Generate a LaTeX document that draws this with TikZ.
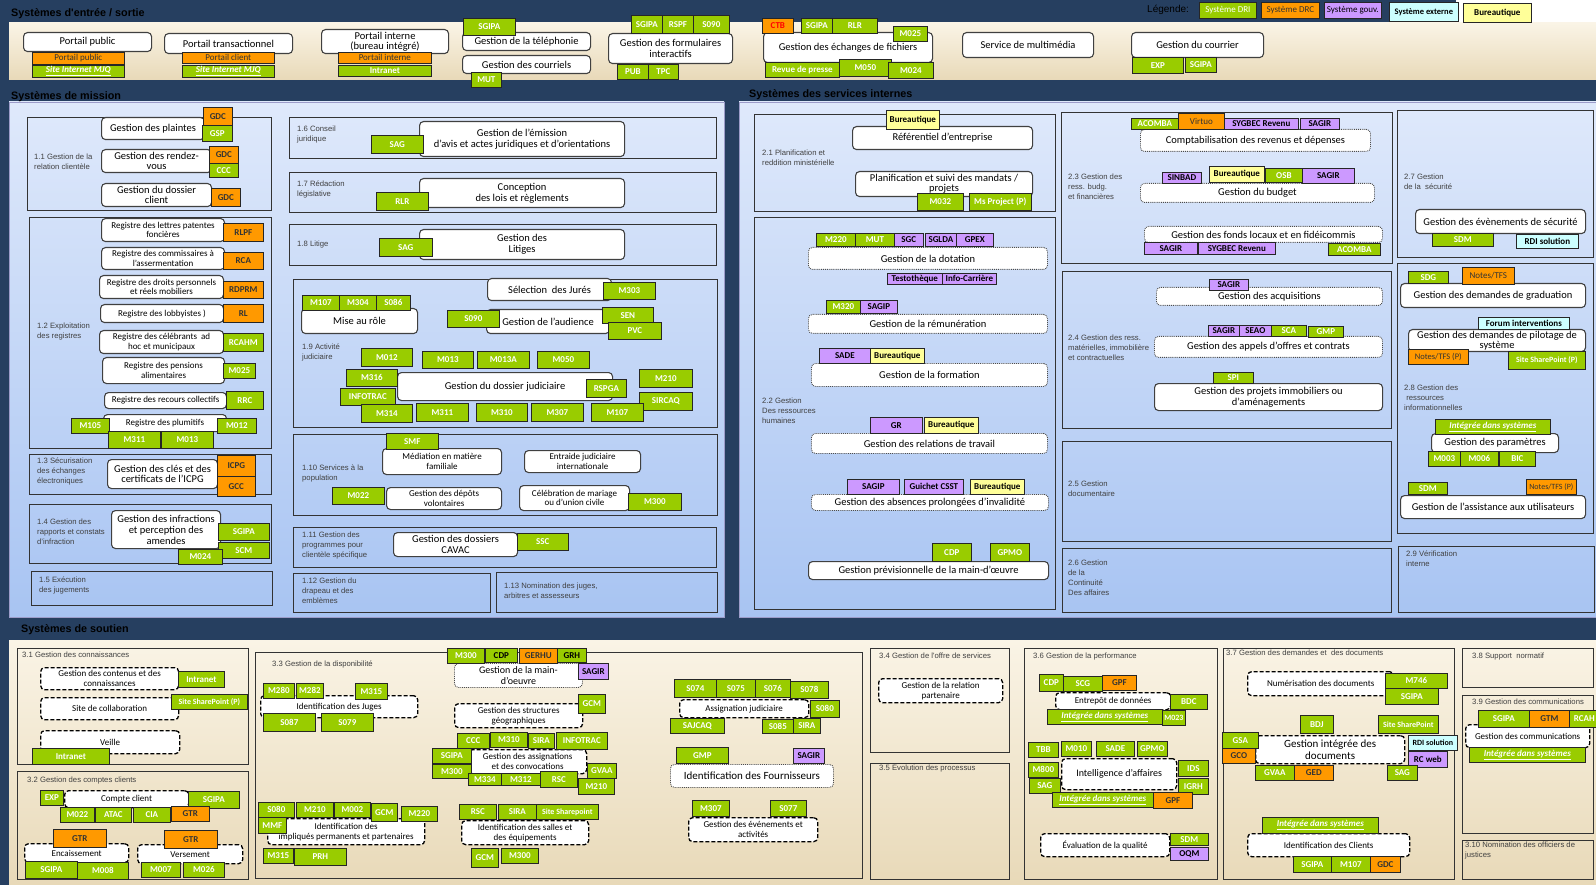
\documentclass[tikz,border=0pt]{standalone}
\usepackage{fontspec}
\setmainfont{Carlito}
\newfontfamily\arialf{Liberation Sans}
\definecolor{navy}{HTML}{263F60}
\definecolor{cG}{HTML}{99CC00}
\definecolor{cO}{HTML}{FF9900}
\definecolor{cP}{HTML}{CC99FF}
\definecolor{cC}{HTML}{CCFFFF}
\definecolor{cY}{HTML}{FFFF99}
\definecolor{beigeT}{HTML}{FAF4E6}
\definecolor{beigeB}{HTML}{E8D9B8}
\definecolor{blueT}{HTML}{DFE9FB}
\definecolor{blueB}{HTML}{A8C4F2}
\newcommand\fz[2]{\fontsize{#1}{#2}\selectfont}
\newcommand\iu[1]{\underline{\textit{#1}}}
\newcommand\tn[6][]{\node[#1,minimum width=#4pt,minimum height=#5pt] (#2) at (#3) {#6};}
\newcommand\lbn[3]{\node[lbl] (#1) at (#2) {#3};}
\newcommand\areabox[2]{\draw[areastyle] (#1) rectangle (#2);}
\tikzset{
  tagbase/.style={anchor=north west, inner sep=0.5pt, align=center, draw=black!85, line width=0.7pt, font=\bfseries\fz{9}{9}},
  tgG/.style={tagbase, fill=cG, text=white},
  tgK/.style={tagbase, fill=cG, text=black},
  tgO/.style={tagbase, fill=cO, text=black!80},
  tgP/.style={tagbase, fill=cP, text=black},
  tgC/.style={tagbase, fill=cC, text=black},
  tgY/.style={tagbase, fill=cY, text=black},
  sbox/.style={anchor=north west, inner sep=1pt, align=center, fill=white, draw=black!75, line width=1.1pt, rounded corners=4pt, font=\fz{10.5}{10.5}},
  dbox/.style={anchor=north west, inner sep=1pt, align=center, fill=white, draw=black!70, densely dotted, line width=0.9pt, rounded corners=4pt, font=\fz{10.5}{10.5}},
  hbox/.style={anchor=north west, inner sep=1pt, align=center, fill=white, draw=black, dash pattern=on 4pt off 2pt, line width=1.3pt, rounded corners=4pt, font=\fz{9}{10}},
  lbl/.style={anchor=north west, inner sep=0pt, align=left, text=black!75, font=\arialf\fz{7.7}{10}},
  areastyle/.style={draw=black!80, line width=0.8pt},
  hdr/.style={anchor=west, inner sep=0pt, font=\arialf\bfseries\fz{10.8}{12}, text=black},
  reg/.style={sbox, font=\fz{9}{9.5}}
}
\begin{document}
\begin{tikzpicture}[x=1pt,y=-1pt]
\useasboundingbox (0,0) rectangle (1596,885);
\fill[navy] (0,0) rectangle (1596,885);
\fill[white] (1456,0) rectangle (1596,22);
% ---------- panels
\shade[top color=beigeT, bottom color=beigeB] (9,23) rectangle (1596,80);
\shade[top color=blueT, bottom color=blueB, draw=blue!30!gray!60] (9,102) rectangle (724,617);
\shade[top color=blueT, bottom color=blueB, draw=blue!30!gray!60] (739,102) rectangle (1596,617);
\shade[top color=beigeT, bottom color=beigeB] (9,640) rectangle (1596,885);
% ---------- headers
\node[hdr] (h1) at (11,14) {Systèmes d'entrée / sortie};
\node[hdr] (h2) at (11,97) {Systèmes de mission};
\node[hdr] (h3) at (749,95) {Systèmes des services internes};
\node[hdr] (h4) at (21,630) {Systèmes de soutien};
% ---------- legend
\node[anchor=west, inner sep=0pt, font=\arialf\fz{10}{12}, text=black] (leg) at (1147,10) {Légende:};
\tn[tgG, font=\fz{9}{9}]{l1}{1199,2}{57}{16}{Système DRI}
\tn[tgO, font=\fz{9}{9}]{l2}{1261,2}{58}{16}{Système DRC}
\tn[tgP, font=\fz{9}{9}]{l3}{1324,2}{57}{16}{Système gouv.}
\tn[tgC, font=\bfseries\fz{8.5}{9}]{l4}{1389,2}{69}{19}{Système externe}
\tn[tgY, font=\bfseries\fz{9}{9}]{l5}{1463,3}{68}{19}{Bureautique}
% ---------- top band
\tn[sbox]{bpp}{23,32}{128}{19}{Portail public}
\tn[tgO, font=\fz{9}{9}]{tpp1}{32,52}{92}{12}{Portail public}
\tn[tgG, font=\bfseries\fz{9}{9}]{tpp2}{32,65}{92}{12}{\iu{Site Internet MJQ}}
\tn[sbox]{bpt}{164,33}{128}{20}{Portail transactionnel}
\tn[tgO, font=\fz{9}{9}]{tpt1}{182,52}{92}{11}{Portail client}
\tn[tgG, font=\bfseries\fz{9}{9}]{tpt2}{182,65}{92}{12}{\iu{Site Internet MJQ}}
\tn[sbox, font=\fz{10.5}{10}]{bpi}{321,29}{127}{24}{Portail interne\\(bureau intégré)}
\tn[tgO, font=\fz{9}{9}]{tpi1}{338,52}{93}{11}{Portail interne}
\tn[tgG]{tpi2}{338,65}{93}{11}{Intranet}
\tn[sbox]{btel}{462,32}{128}{18}{Gestion de la téléphonie}
\tn[tgG]{ttel}{463,18}{52}{17}{SGIPA}
\tn[sbox]{bcou}{462,55}{128}{18}{Gestion des courriels}
\tn[tgG]{tmut}{471,72}{30}{15}{MUT}
\tn[sbox, font=\fz{10.5}{11}]{bform}{608,33}{124}{30}{Gestion des formulaires\\interactifs}
\tn[tgG]{tf1}{631,15}{31}{18}{SGIPA}
\tn[tgG]{tf2}{662,15}{31}{18}{RSPF}
\tn[tgG]{tf3}{693,15}{36}{18}{S090}
\tn[tgG]{tpub}{617,64}{31}{15}{PUB}
\tn[tgG]{ttpc}{648,64}{30}{15}{TPC}
\tn[sbox]{bech}{763,32}{169}{30}{Gestion des échanges de fichiers}
\tn[tgO, text=red]{tctb}{762,18}{31}{15}{CTB}
\tn[tgG]{tech1}{801,18}{31}{15}{SGIPA}
\tn[tgG]{tech2}{832,18}{45}{15}{RLR}
\tn[tgG]{tech3}{893,26}{34}{15}{M025}
\tn[tgG]{tech4}{765,62}{74}{15}{Revue de presse}
\tn[tgG]{tech5}{839,59}{52}{17}{M050}
\tn[tgG]{tech6}{888,62}{45}{16}{M024}
\tn[sbox]{bmm}{962,32}{131}{25}{Service de multimédia}
\tn[sbox]{bgc}{1131,32}{132}{25}{Gestion du courrier}
\tn[tgG]{tgc1}{1132,57}{51}{16}{EXP}
\tn[tgG]{tgc2}{1185,57}{31}{15}{SGIPA}
% ================= MISSION
% 1.1
\areabox{27,117}{271,210}
\lbn{L11}{34,154}{1.1 Gestion de la\\relation clientèle}
\tn[sbox]{bpl}{101,117}{103}{22}{Gestion des plaintes}
\tn[tgO]{tpl1}{203,107}{29}{18}{GDC}
\tn[tgG]{tpl2}{202,125}{30}{16}{GSP}
\tn[sbox]{brv}{101,149}{110}{23}{Gestion des rendez-\\vous}
\tn[tgO]{trv1}{209,146}{29}{17}{GDC}
\tn[tgG]{trv2}{209,163}{29}{14}{CCC}
\tn[sbox]{bdc}{101,183}{110}{23}{Gestion du dossier\\client}
\tn[tgO]{tdc}{211,188}{29}{18}{GDC}
% 1.2
\areabox{29,217}{271,448}
\lbn{L12}{37,323}{1.2 Exploitation\\des registres}
\tn[reg]{r1}{101,218}{123}{23}{Registre des lettres patentes\\foncières}
\tn[tgO]{tr1}{223,223}{40}{18}{RLPF}
\tn[reg]{r2}{101,247}{123}{22}{Registre des commissaires à\\l’assermentation}
\tn[tgO]{tr2}{223,252}{40}{17}{RCA}
\tn[reg]{r3}{99,275}{124}{23}{Registre des droits personnels\\et réels mobiliers}
\tn[tgO]{tr3}{223,281}{40}{17}{RDPRM}
\tn[reg]{r4}{100,304}{123}{18}{Registre des lobbyistes )}
\tn[tgO]{tr4}{223,304}{40}{18}{RL}
\tn[reg]{r5}{99,330}{124}{23}{Registre des célébrants\ \ ad\\hoc et municipaux}
\tn[tgG]{tr5}{223,333}{40}{18}{RCAHM}
\tn[reg]{r6}{102,357}{122}{26}{Registre des pensions\\alimentaires}
\tn[tgG]{tr6}{223,363}{32}{15}{M025}
\tn[reg]{r7}{104,392}{122}{16}{Registre des recours collectifs}
\tn[tgG]{tr7}{226,391}{37}{18}{RRC}
\tn[reg]{r8}{103,414}{123}{17}{Registre des plumitifs}
\tn[tgG]{tr8a}{71,418}{38}{15}{M105}
\tn[tgG]{tr8b}{217,418}{39}{15}{M012}
\tn[tgG]{tr8c}{108,431}{52}{17}{M311}
\tn[tgG]{tr8d}{161,431}{52}{17}{M013}
% 1.3
\areabox{29,454}{271,494}
\lbn{L13}{37,458}{1.3 Sécurisation\\des échanges\\électroniques}
\tn[sbox, font=\fz{10.5}{10.5}]{bicpg}{107,459}{110}{29}{Gestion des clés et des\\certificats de l’ICPG}
\tn[tgO]{ticpg1}{217,455}{38}{21}{ICPG}
\tn[tgO]{ticpg2}{217,476}{38}{20}{GCC}
% 1.4
\areabox{29,504}{271,563}
\lbn{L14}{37,519}{1.4 Gestion des\\rapports et constats\\d’infraction}
\tn[sbox, font=\fz{10.5}{11}]{binf}{111,510}{109}{38}{Gestion des infractions\\et perception des\\amendes}
\tn[tgG]{tinf1}{218,523}{51}{17}{SGIPA}
\tn[tgG]{tinf2}{218,542}{51}{16}{SCM}
\tn[tgG]{tinf3}{178,549}{44}{15}{M024}
% 1.5
\areabox{31,571}{272,605}
\lbn{L15}{39,577}{1.5 Exécution\\des jugements}
% 1.6
\areabox{289,117}{716,158}
\lbn{L16}{297,126}{1.6 Conseil\\juridique}
\tn[sbox, font=\fz{10.5}{11}]{bem}{419,121}{205}{35}{Gestion de l’émission\\d’avis et actes juridiques et d’orientations}
\tn[tgG]{tem}{371,135}{52}{18}{SAG}
% 1.7
\areabox{289,172}{716,212}
\lbn{L17}{297,181}{1.7 Rédaction\\législative}
\tn[sbox, font=\fz{10.5}{11}]{blois}{419,178}{205}{29}{Conception\\des lois et règlements}
\tn[tgG]{tlois}{376,192}{52}{18}{RLR}
% 1.8
\areabox{289,224}{716,265}
\lbn{L18}{297,241}{1.8 Litige}
\tn[sbox, font=\fz{10.5}{11}]{blit}{419,229}{205}{30}{Gestion des\\Litiges}
\tn[tgG]{tlit}{379,238}{53}{18}{SAG}
% 1.9
\areabox{293,279}{717,427}
\lbn{L19}{302,344}{1.9 Activité\\judiciaire}
\tn[sbox]{bjur}{487,278}{124}{22}{Sélection\ \ des Jurés}
\tn[tgG]{tjur}{603,282}{52}{17}{M303}
\tn[sbox]{brole}{301,308}{116}{25}{Mise au rôle}
\tn[tgG]{trole1}{302,295}{37}{15}{M107}
\tn[tgG]{trole2}{339,295}{37}{15}{M304}
\tn[tgG]{trole3}{376,295}{34}{15}{S086}
\tn[sbox]{baud}{486,309}{123}{24}{Gestion de l'audience}
\tn[tgG]{taud1}{447,310}{52}{17}{S090}
\tn[tgG]{taud2}{602,307}{51}{16}{SEN}
\tn[tgG]{taud3}{608,322}{53}{17}{PVC}
\tn[sbox]{bdj}{397,372}{215}{28}{Gestion du dossier judiciaire}
\tn[tgG]{tdj1}{361,348}{51}{18}{M012}
\tn[tgG]{tdj2}{422,351}{51}{17}{M013}
\tn[tgG]{tdj3}{477,351}{52}{17}{M013A}
\tn[tgG]{tdj4}{537,351}{52}{17}{M050}
\tn[tgG]{tdj5}{346,369}{51}{17}{M316}
\tn[tgG]{tdj6}{340,388}{55}{17}{INFOTRAC}
\tn[tgG]{tdj7}{586,379}{40}{18}{RSPGA}
\tn[tgG]{tdj8}{639,369}{53}{18}{M210}
\tn[tgG]{tdj9}{639,392}{53}{18}{SIRCAQ}
\tn[tgG]{tdj10}{361,404}{51}{18}{M314}
\tn[tgG]{tdj11}{416,403}{52}{18}{M311}
\tn[tgG]{tdj12}{476,403}{51}{18}{M310}
\tn[tgG]{tdj13}{531,403}{52}{18}{M307}
\tn[tgG]{tdj14}{591,403}{52}{18}{M107}
% 1.10
\areabox{293,434}{717,515}
\lbn{L110}{302,465}{1.10 Services à la\\population}
\tn[reg]{bmed}{382,448}{119}{26}{Médiation en matière\\familiale}
\tn[tgG]{tmed}{386,433}{52}{16}{SMF}
\tn[reg]{bentr}{524,450}{116}{22}{Entraide judiciaire\\internationale}
\tn[reg]{bdep}{386,487}{115}{22}{Gestion des dépôts\\volontaires}
\tn[tgG]{tdep}{332,487}{52}{17}{M022}
\tn[reg]{bmar}{519,485}{110}{25}{Célébration de mariage\\ou d’union civile}
\tn[tgG]{tmar}{628,493}{53}{17}{M300}
% 1.11
\areabox{293,527}{716,567}
\lbn{L111}{302,532}{1.11 Gestion des\\programmes pour\\clientèle spécifique}
\tn[sbox, font=\fz{10.5}{11}]{bcav}{393,532}{124}{24}{Gestion des dossiers\\CAVAC}
\tn[tgG]{tcav}{517,533}{51}{17}{SSC}
% 1.12 / 1.13
\areabox{293,573}{490,612}
\lbn{L112}{302,578}{1.12 Gestion du\\drapeau et des\\emblèmes}
\areabox{496,572}{717,612}
\lbn{L113}{504,583}{1.13 Nomination des juges,\\arbitres et assesseurs}
% ================= INTERNAL
% 2.1
\areabox{754,114}{1055,211}
\lbn{L21}{762,150}{2.1 Planification et\\reddition ministérielle}
\tn[sbox]{bref}{852,126}{180}{23}{Référentiel d'entreprise}
\tn[tgY]{tref}{886,110}{53}{19}{Bureautique}
\tn[sbox, font=\fz{10.5}{10}]{bplan}{855,171}{177}{25}{Planification et suivi des mandats /\\projets}
\tn[tgG]{tplan1}{917,193}{46}{17}{M032}
\tn[tgG]{tplan2}{969,193}{62}{17}{Ms Project (P)}
% 2.2
\areabox{754,217}{1055,609}
\lbn{L22}{762,398}{2.2 Gestion\\Des ressources\\humaines}
\tn[dbox]{bdot}{808,247}{239}{22}{Gestion de la dotation}
\tn[tgG]{tdot1}{816,233}{39}{13}{M220}
\tn[tgG]{tdot2}{855,233}{39}{13}{MUT}
\tn[tgP]{tdot3}{894,233}{29}{13}{SGC}
\tn[tgP]{tdot4}{925,233}{31}{13}{SGLDA}
\tn[tgP]{tdot5}{956,233}{37}{13}{GPEX}
\tn[tgP]{tdot6}{887,273}{55}{11}{Testothèque}
\tn[tgP]{tdot7}{942,273}{54}{11}{Info-Carrière}
\tn[dbox]{brem}{808,314}{239}{19}{Gestion de la rémunération}
\tn[tgG]{trem1}{826,300}{34}{13}{M320}
\tn[tgP]{trem2}{860,300}{37}{13}{SAGIP}
\tn[dbox]{bfor}{811,363}{236}{23}{Gestion de la formation}
\tn[tgP]{tfor1}{819,348}{51}{15}{SADE}
\tn[tgY]{tfor2}{870,348}{54}{15}{Bureautique}
\tn[dbox]{brelt}{811,433}{236}{20}{Gestion des relations de travail}
\tn[tgP]{trel1}{870,417}{52}{16}{GR}
\tn[tgY]{trel2}{924,417}{54}{16}{Bureautique}
\tn[dbox]{babs}{811,494}{237}{16}{Gestion des absences prolongées d'invalidité}
\tn[tgP]{tabs1}{847,479}{52}{15}{SAGIP}
\tn[tgP]{tabs2}{904,479}{59}{15}{Guichet CSST}
\tn[tgY]{tabs3}{970,479}{54}{15}{Bureautique}
\tn[sbox]{bgpm}{808,561}{240}{18}{Gestion prévisionnelle de la main-d'œuvre}
\tn[tgG]{tgpm1}{932,543}{39}{18}{CDP}
\tn[tgG]{tgpm2}{990,543}{39}{18}{GPMO}
% 2.3
\areabox{1061,112}{1392,263}
\lbn{L23}{1068,174}{2.3 Gestion des\\ress. budg.\\et financières}
\tn[dbox]{bcpt}{1140,129}{230}{22}{Comptabilisation des revenus et dépenses}
\tn[tgG]{tcpt1}{1131,118}{47}{11}{ACOMBA}
\tn[tgO, font=\fz{9}{9}]{tcpt2}{1178,113}{46}{16}{Virtuo}
\tn[tgP]{tcpt3}{1224,118}{74}{11}{SYGBEC Revenu}
\tn[tgP]{tcpt4}{1300,118}{39}{11}{SAGIR}
\tn[dbox]{bbud}{1140,183}{234}{19}{Gestion du budget}
\tn[tgP]{tbud1}{1162,172}{39}{11}{SINBAD}
\tn[tgY]{tbud2}{1209,166}{55}{16}{Bureautique}
\tn[tgG]{tbud3}{1265,168}{37}{14}{OSB}
\tn[tgP]{tbud4}{1302,168}{52}{15}{SAGIR}
\tn[dbox]{bfonds}{1144,226}{238}{16}{Gestion des fonds locaux et en fidéicommis}
\tn[tgP]{tfon1}{1144,242}{53}{12}{SAGIR}
\tn[tgP]{tfon2}{1198,242}{77}{12}{SYGBEC Revenu}
\tn[tgG]{tfon3}{1328,243}{52}{12}{ACOMBA}
% 2.4
\areabox{1062,271}{1391,428}
\lbn{L24}{1068,335}{2.4 Gestion des ress.\\matérielles, immobilière\\et contractuelles}
\tn[dbox]{bacq}{1156,287}{226}{18}{Gestion des acquisitions}
\tn[tgP]{tacq}{1209,279}{39}{11}{SAGIR}
\tn[dbox]{bao}{1154,336}{228}{21}{Gestion des appels d'offres et contrats}
\tn[tgP]{tao1}{1208,325}{31}{11}{SAGIR}
\tn[tgP]{tao2}{1239,325}{32}{11}{SEAO}
\tn[tgG]{tao3}{1271,325}{35}{11}{SCA}
\tn[tgG]{tao4}{1308,326}{35}{11}{GMP}
\tn[sbox, font=\fz{10.5}{10.5}]{bimm}{1154,383}{228}{27}{Gestion des projets immobiliers ou\\d'aménagements}
\tn[tgG]{timm}{1213,372}{40}{11}{SPI}
% 2.5 2.6
\areabox{1062,441}{1391,541}
\lbn{L25}{1068,481}{2.5 Gestion\\documentaire}
\areabox{1062,548}{1391,612}
\lbn{L26}{1068,560}{2.6 Gestion\\de la\\Continuité\\Des affaires}
% 2.7
\areabox{1397,110}{1593,257}
\lbn{L27}{1404,174}{2.7 Gestion\\de la\ \ sécurité}
\tn[sbox]{bsec}{1415,209}{170}{24}{Gestion des évènements de sécurité}
\tn[tgG]{tsec1}{1432,233}{61}{13}{SDM}
\tn[tgC]{tsec2}{1516,234}{62}{14}{RDI solution}
% 2.8
\areabox{1397,263}{1593,533}
\lbn{L28}{1404,385}{2.8 Gestion des\\\ ressources\\informationnelles}
\tn[sbox]{bgrad}{1400,283}{185}{24}{Gestion des demandes de graduation}
\tn[tgG]{tgrad1}{1408,271}{40}{12}{SDG}
\tn[tgO, font=\fz{9}{9}]{tgrad2}{1462,267}{52}{17}{Notes/TFS}
\tn[sbox, font=\fz{10.5}{10}]{bpil}{1408,329}{177}{22}{Gestion des demandes de pilotage de\\système}
\tn[tgC]{tpil1}{1478,317}{91}{12}{Forum interventions}
\tn[tgO, font=\fz{8.5}{9}]{tpil2}{1408,349}{60}{15}{Notes/TFS (P)}
\tn[tgG, font=\bfseries\fz{8}{9}]{tpil3}{1508,351}{77}{18}{Site SharePoint (P)}
\tn[sbox]{bpar}{1431,433}{127}{19}{Gestion des paramètres}
\tn[tgG]{tpar1}{1435,419}{115}{15}{\iu{Intégrée dans systèmes}}
\tn[tgG]{tpar2}{1428,451}{32}{15}{M003}
\tn[tgG]{tpar3}{1460,451}{38}{15}{M006}
\tn[tgG]{tpar4}{1499,451}{36}{15}{BIC}
\tn[sbox]{bass}{1400,495}{185}{23}{Gestion de l'assistance aux utilisateurs}
\tn[tgG]{tass1}{1408,482}{39}{12}{SDM}
\tn[tgO, font=\fz{8}{9}]{tass2}{1526,479}{50}{15}{Notes/TFS (P)}
% 2.9
\areabox{1398,546}{1594,612}
\lbn{L29}{1406,551}{2.9 Vérification\\interne}
% ================= SUPPORT
% 3.1
\areabox{17,648}{248,764}
\lbn{L31}{22,652}{3.1 Gestion des connaissances}
\tn[hbox]{hcont}{40,667}{138}{22}{Gestion des contenus et des\\connaissances}
\tn[tgG]{tcont}{178,671}{46}{16}{Intranet}
\tn[hbox]{hcol}{40,697}{138}{22}{Site de collaboration}
\tn[tgG, font=\bfseries\fz{8}{9}]{tcol}{171,694}{76}{15}{Site SharePoint (P)}
\tn[hbox]{hveil}{40,730}{139}{23}{Veille}
\tn[tgG]{tveil}{32,748}{77}{16}{Intranet}
% 3.2
\areabox{17,771}{248,879}
\lbn{L32}{27,777}{3.2 Gestion des comptes clients}
\tn[hbox]{hcc}{64,790}{124}{17}{Compte client}
\tn[tgG]{tcc1}{40,790}{23}{15}{EXP}
\tn[tgG]{tcc2}{188,791}{51}{17}{SGIPA}
\tn[tgG]{tcc3}{60,807}{34}{15}{M022}
\tn[tgG]{tcc4}{95,807}{36}{15}{ATAC}
\tn[tgG]{tcc5}{133,807}{37}{15}{CIA}
\tn[tgO]{tcc6}{171,806}{38}{15}{GTR}
\tn[hbox]{henc}{24,843}{104}{19}{Encaissement}
\tn[tgO]{tenc1}{53,829}{53}{18}{GTR}
\tn[tgG]{tenc2}{25,861}{52}{17}{SGIPA}
\tn[tgG]{tenc3}{77,862}{51}{17}{M008}
\tn[hbox]{hver}{137,844}{105}{19}{Versement}
\tn[tgO]{tver1}{164,830}{53}{18}{GTR}
\tn[tgG]{tver2}{141,862}{39}{15}{M007}
\tn[tgG]{tver3}{183,862}{41}{15}{M026}
% 3.3
\areabox{255,652}{862,878}
\lbn{L33}{272,661}{3.3 Gestion de la disponibilité}
\tn[hbox]{hjug}{260,695}{157}{22}{Identification des Juges}
\tn[tgG]{tjug1}{263,683}{31}{15}{M280}
\tn[tgG]{tjug2}{296,683}{27}{15}{M282}
\tn[tgG]{tjug3}{355,683}{32}{16}{M315}
\tn[tgG]{tjug4}{263,713}{52}{18}{S087}
\tn[tgG]{tjug5}{321,713}{52}{18}{S079}
\tn[hbox]{himp}{267,818}{157}{26}{Identification des\\impliqués permanents et partenaires}
\tn[tgG]{timp1}{258,802}{36}{15}{S080}
\tn[tgG]{timp2}{296,802}{37}{15}{M210}
\tn[tgG]{timp3}{334,802}{36}{15}{M002}
\tn[tgG]{timp4}{371,803}{26}{18}{GCM}
\tn[tgG]{timp5}{401,806}{36}{15}{M220}
\tn[tgG]{timp6}{258,817}{28}{16}{MMF}
\tn[tgG]{timp7}{263,848}{30}{15}{M315}
\tn[tgG]{timp8}{294,848}{52}{17}{PRH}
\tn[dbox, font=\fz{10}{10.5}]{dmo}{454,663}{128}{24}{Gestion de la main-\\d'oeuvre}
\tn[tgG]{tmo1}{447,648}{37}{15}{M300}
\tn[tgK]{tmo2}{485,648}{32}{14}{CDP}
\tn[tgO]{tmo3}{519,648}{38}{15}{GERHU}
\tn[tgK]{tmo4}{557,648}{29}{14}{GRH}
\tn[tgP]{tmo5}{578,663}{30}{16}{SAGIR}
\tn[hbox]{hgeo}{454,703}{128}{24}{Gestion des structures\\géographiques}
\tn[tgG]{tgeo}{578,694}{27}{19}{GCM}
\tn[hbox]{hasg}{468,749}{118}{24}{Gestion des assignations\\et des convocations}
\tn[tgG]{tasg1}{457,733}{32}{15}{CCC}
\tn[tgG]{tasg2}{490,732}{37}{15}{M310}
\tn[tgG]{tasg3}{528,733}{26}{15}{SIRA}
\tn[tgG]{tasg4}{556,732}{51}{17}{INFOTRAC}
\tn[tgG]{tasg5}{432,748}{39}{15}{SGIPA}
\tn[tgG]{tasg6}{432,764}{39}{14}{M300}
\tn[tgG]{tasg7}{468,773}{33}{12}{M334}
\tn[tgG]{tasg8}{501,773}{39}{12}{M312}
\tn[tgG]{tasg9}{540,771}{37}{16}{RSC}
\tn[tgG]{tasg10}{587,763}{29}{15}{GVAA}
\tn[tgG]{tasg11}{578,778}{36}{16}{M210}
\tn[hbox]{hsal}{461,820}{127}{24}{Identification des salles et\\des équipements}
\tn[tgG]{tsal1}{459,804}{37}{15}{RSC}
\tn[tgG]{tsal2}{498,804}{38}{15}{SIRA}
\tn[tgG, font=\bfseries\fz{8}{9}]{tsal3}{536,804}{62}{15}{Site Sharepoint}
\tn[tgG]{tsal4}{471,848}{27}{19}{GCM}
\tn[tgG]{tsal5}{501,848}{37}{15}{M300}
\tn[hbox]{hasj}{679,699}{129}{18}{Assignation judiciaire}
\tn[tgG]{tasj1}{674,679}{42}{18}{S074}
\tn[tgG]{tasj2}{716,679}{39}{18}{S075}
\tn[tgG]{tasj3}{755,679}{35}{18}{S076}
\tn[tgG]{tasj4}{790,681}{38}{17}{S078}
\tn[tgG]{tasj5}{810,700}{29}{17}{S080}
\tn[tgG]{tasj6}{670,718}{54}{15}{SAJCAQ}
\tn[tgG]{tasj7}{762,719}{31}{14}{S085}
\tn[tgG]{tasj8}{793,718}{27}{15}{SIRA}
\tn[dbox, font=\fz{11}{11}]{dfour}{670,764}{163}{23}{Identification des Fournisseurs}
\tn[tgG]{tfour1}{676,747}{52}{16}{GMP}
\tn[tgP]{tfour2}{793,748}{31}{15}{SAGIR}
\tn[hbox]{hevt}{688,817}{129}{24}{Gestion des événements et\\activités}
\tn[tgG]{tevt1}{692,800}{37}{16}{M307}
\tn[tgG]{tevt2}{770,800}{36}{16}{S077}
% 3.4 3.5
\areabox{870,648}{1009,752}
\lbn{L34}{879,653}{3.4 Gestion de l'offre de services}
\tn[hbox]{hrelp}{878,678}{124}{24}{Gestion de la relation\\partenaire}
\areabox{870,763}{1009,879}
\lbn{L35}{879,764}{3.5 Évolution des processus}
% 3.6
\areabox{1024,648}{1217,879}
\lbn{L36}{1033,653}{3.6 Gestion de la performance}
\tn[hbox]{hent}{1055,692}{115}{17}{Entrepôt de données}
\tn[tgG]{tent1}{1039,674}{24}{17}{CDP}
\tn[tgG]{tent2}{1063,676}{39}{15}{SCG}
\tn[tgO]{tent3}{1102,675}{34}{15}{GPF}
\tn[tgG]{tent4}{1170,694}{37}{15}{BDC}
\tn[tgG]{tent5}{1047,709}{115}{15}{\iu{Intégrée dans systèmes}}
\tn[tgG, font=\bfseries\fz{8}{9}]{tent6}{1162,710}{23}{15}{M023}
\tn[hbox, font=\fz{10}{10}]{hia}{1061,758}{115}{31}{Intelligence d'affaires}
\tn[tgG]{tia1}{1028,742}{30}{15}{TBB}
\tn[tgG]{tia2}{1061,741}{30}{15}{M010}
\tn[tgG]{tia3}{1096,741}{38}{15}{SADE}
\tn[tgG]{tia4}{1137,741}{30}{15}{GPMO}
\tn[tgG]{tia5}{1028,762}{30}{15}{M800}
\tn[tgG]{tia6}{1029,778}{31}{15}{SAG}
\tn[tgG]{tia7}{1178,760}{30}{16}{IDS}
\tn[tgG]{tia8}{1178,778}{30}{16}{IGRH}
\tn[tgG]{tia9}{1052,792}{101}{15}{\iu{Intégrée dans systèmes}}
\tn[tgO]{tia10}{1153,792}{39}{16}{GPF}
\tn[hbox]{hqual}{1040,833}{129}{23}{Évaluation de la qualité}
\tn[tgG]{tqual1}{1170,833}{38}{12}{SDM}
\tn[tgP]{tqual2}{1170,847}{38}{13}{OQM}
% 3.7
\areabox{1223,648}{1454,879}
\lbn{L37}{1226,650}{3.7 Gestion des demandes et\ \ des documents}
\tn[hbox]{hnum}{1247,671}{146}{24}{Numérisation des documents}
\tn[tgG]{tnum1}{1385,673}{62}{15}{M746}
\tn[tgG]{tnum2}{1385,688}{53}{16}{SGIPA}
\tn[hbox, font=\fz{11}{12}]{hgid}{1255,735}{149}{28}{Gestion intégrée des\\documents}
\tn[tgG]{tgid1}{1300,715}{33}{18}{BDJ}
\tn[tgG, font=\bfseries\fz{8}{9}]{tgid2}{1378,715}{60}{18}{Site SharePoint}
\tn[tgG]{tgid3}{1222,732}{36}{16}{GSA}
\tn[tgO]{tgid4}{1222,748}{33}{15}{GCO}
\tn[tgC, font=\bfseries\fz{8}{9}]{tgid5}{1408,735}{49}{15}{RDI solution}
\tn[tgP]{tgid6}{1408,751}{39}{16}{RC web}
\tn[tgG]{tgid7}{1255,765}{39}{15}{GVAA}
\tn[tgO]{tgid8}{1294,765}{39}{15}{GED}
\tn[tgG]{tgid9}{1387,765}{30}{15}{SAG}
\tn[hbox]{hcli}{1247,833}{162}{23}{Identification des Clients}
\tn[tgG]{tcli1}{1262,817}{116}{16}{\iu{Intégrée dans systèmes}}
\tn[tgG]{tcli2}{1293,856}{38}{16}{SGIPA}
\tn[tgG]{tcli3}{1331,856}{39}{16}{M107}
\tn[tgO]{tcli4}{1370,856}{30}{16}{GDC}
% 3.8 3.9 3.10
\areabox{1462,648}{1593,687}
\lbn{L38}{1472,653}{3.8 Support\ \ normatif}
\areabox{1462,695}{1593,833}
\lbn{L39}{1472,699}{3.9 Gestion des communications}
\tn[hbox]{hcom}{1465,724}{124}{23}{Gestion des communications}
\tn[tgG]{tcom1}{1478,710}{51}{17}{SGIPA}
\tn[tgO]{tcom2}{1529,710}{40}{17}{GTM}
\tn[tgG]{tcom3}{1569,710}{30}{17}{RCAH}
\tn[tgG]{tcom4}{1469,747}{116}{15}{\iu{Intégrée dans systèmes}}
\areabox{1462,840}{1593,879}
\lbn{L310}{1465,842}{3.10 Nomination des officiers de\\justices}
\end{tikzpicture}
\end{document}
